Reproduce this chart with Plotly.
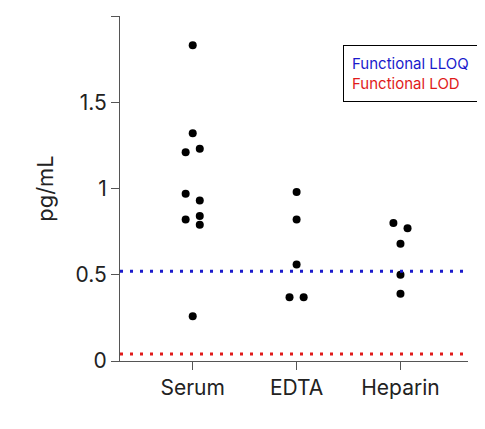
import plotly.graph_objects as go

groups = ["Serum", "EDTA", "Heparin"]
serum = [1.83, 1.32, 1.21, 1.23, 0.97, 0.93, 0.84, 0.82, 0.79, 0.26]
serum_off = [0, 0, -1, 1, -1, 1, 1, -1, 1, 0]
edta = [0.98, 0.82, 0.56, 0.37, 0.37]
edta_off = [0, 0, 0, -1, 1]
heparin = [0.80, 0.77, 0.68, 0.50, 0.39]
heparin_off = [-1, 1, 0, 0, 0]
lloq = 0.52
lod = 0.04

fig = go.Figure()
for i, (vals, offs) in enumerate([(serum, serum_off), (edta, edta_off), (heparin, heparin_off)]):
    fig.add_trace(go.Scatter(x=[i + 1 + o * 0.068 for o in offs], y=vals, mode="markers",
                             marker=dict(color="black", size=8), showlegend=False))

fig.add_trace(go.Scatter(x=[0.3, 3.65], y=[lloq, lloq], mode="lines",
                         line=dict(color="#1a1acc", width=3, dash="3px,7px"), showlegend=False))
fig.add_trace(go.Scatter(x=[0.3, 3.65], y=[lod, lod], mode="lines",
                         line=dict(color="#e01b1b", width=3, dash="3px,7px"), showlegend=False))

fig.add_annotation(xref="paper", yref="paper", x=1.03, y=0.915, xanchor="right", yanchor="top",
                   text="<span style='color:#1a1acc'>Functional LLOQ</span><br><span style='color:#e01b1b'>Functional LOD</span>",
                   showarrow=False, align="left", bordercolor="black", borderwidth=1, borderpad=8,
                   font=dict(size=15), bgcolor="white")

fig.update_layout(
    width=485, height=429, margin=dict(l=112, r=25, t=8, b=76),
    plot_bgcolor="white", paper_bgcolor="white",
    font=dict(family="Inter", color="#222", size=18),
)
fig.update_xaxes(range=[0.3, 3.65], tickvals=[1, 2, 3], ticktext=groups, showline=True,
                 linecolor="#555", ticks="outside", tickcolor="#555", ticklen=8, showgrid=False,
                 zeroline=False, tickfont=dict(size=21))
fig.update_yaxes(range=[0, 2], tickvals=[0, 0.5, 1, 1.5, 2], ticktext=["0", "0.5", "1", "1.5", "2"],
                 showline=True, linecolor="#555", ticks="outside", tickcolor="#555", ticklen=8,
                 showgrid=False, zeroline=False, title=dict(text="pg/mL", font=dict(size=22)),
                 tickfont=dict(size=21))

fig.write_html("out.html")
